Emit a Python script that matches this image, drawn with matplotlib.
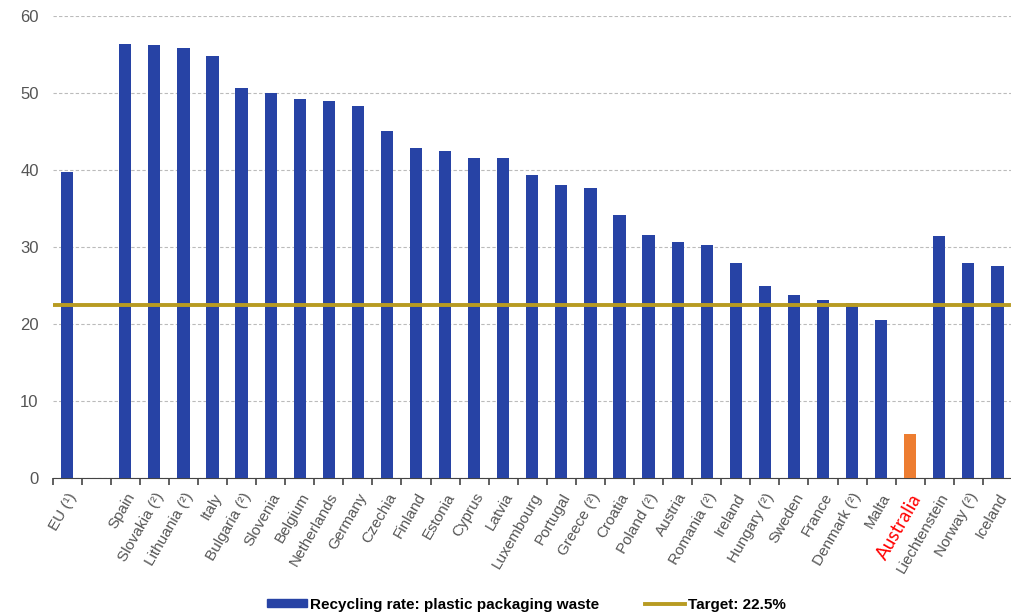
import matplotlib.pyplot as plt
import numpy as np

plt.rcParams['font.family'] = ['Liberation Sans', 'DejaVu Sans']

countries = ['EU (¹)', '', 'Spain', 'Slovakia (²)', 'Lithuania (²)', 'Italy', 'Bulgaria (²)',
             'Slovenia', 'Belgium', 'Netherlands', 'Germany', 'Czechia', 'Finland', 'Estonia',
             'Cyprus', 'Latvia', 'Luxembourg', 'Portugal', 'Greece (²)', 'Croatia', 'Poland (²)',
             'Austria', 'Romania (²)', 'Ireland', 'Hungary (²)', 'Sweden', 'France',
             'Denmark (²)', 'Malta', 'Australia', 'Liechtenstein', 'Norway (²)', 'Iceland']
rates = [39.7, 0, 56.4, 56.2, 55.9, 54.8, 50.6, 50.0, 49.2, 48.9, 48.3, 45.1, 42.8, 42.5,
         41.6, 41.6, 39.4, 38.1, 37.6, 34.2, 31.5, 30.7, 30.2, 27.9, 24.9, 23.8, 23.1,
         22.8, 20.5, 5.7, 31.4, 27.9, 27.6]
target = 22.5
highlight = 'Australia'

blue = '#2743A5'
orange = '#ED7D31'
gold = '#B89B22'

fig = plt.figure(figsize=(10.12, 6.13), dpi=100)
ax = fig.add_axes([0.052, 0.22, 0.948, 0.754])

x = np.arange(len(countries))
cols = [orange if c == highlight else blue for c in countries]
bars = ax.bar(x, rates, width=0.42, color=cols, zorder=3, label='Recycling rate: plastic packaging waste')
bars.patches[1].set_visible(False)
line, = ax.plot([-0.5, len(countries) - 0.6], [target, target], color=gold, lw=2.8, zorder=4,
                label='Target: 22.5%')

ax.set_xlim(-0.5, len(countries) - 0.55)
ax.set_ylim(0, 60)
ax.set_yticks(range(0, 61, 10))
ax.yaxis.grid(True, ls=(0, (3, 2)), color='#BBBBBB', lw=0.8, zorder=0)
for s in ['top', 'right', 'left']:
    ax.spines[s].set_visible(False)
ax.spines['bottom'].set_color('#444444')
ax.tick_params(axis='y', length=0, labelsize=12, labelcolor='#555555', pad=10)

ax.set_xticks(x)
ax.set_xticklabels(countries, rotation=60, ha='right', rotation_mode='anchor',
                   fontsize=11, color='#555555')
ax.tick_params(axis='x', which='major', length=0, pad=9)
ax.set_xticks(np.arange(-0.5, len(countries), 1), minor=True)
ax.tick_params(axis='x', which='minor', length=5, color='#444444', width=1.2)
for lab in ax.get_xticklabels():
    if lab.get_text() == highlight:
        lab.set_color('red')
        lab.set_fontsize(13.5)
        lab.set_family(['Lato', 'DejaVu Sans'])

blue_patch = plt.Rectangle((0, 0), 1, 1, color=blue)
fig.legend([blue_patch, line], ['Recycling rate: plastic packaging waste', 'Target: 22.5%'],
           loc='lower center', bbox_to_anchor=(0.52, -0.02), ncol=2, frameon=False,
           prop={'size': 11, 'weight': 'bold'}, handlelength=2.6, handleheight=0.45,
           columnspacing=3, handletextpad=0.2)

fig.savefig('out.png', dpi=100)
